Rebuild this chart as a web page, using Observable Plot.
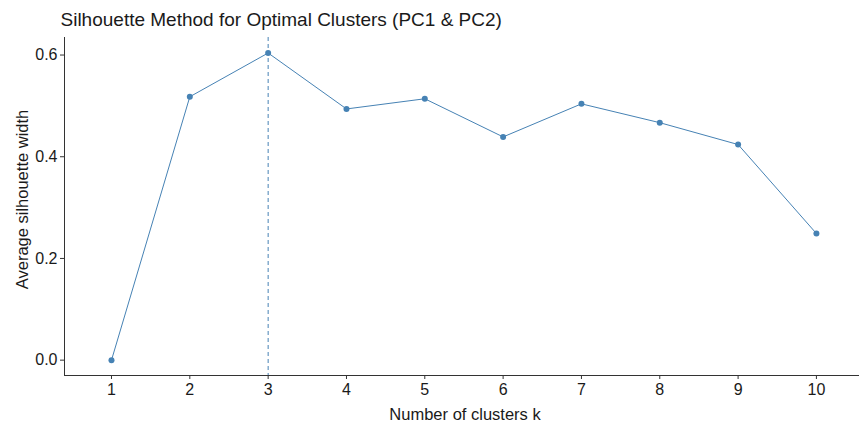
<!DOCTYPE html>
<html><head><meta charset="utf-8">
<script src="https://cdn.jsdelivr.net/npm/d3@7"></script>
<script src="https://cdn.jsdelivr.net/npm/@observablehq/plot@0.6"></script>
<style>body{margin:0;background:#fff;}</style>
</head><body><div id="chart"></div>
<script>
const ks = [1, 2, 3, 4, 5, 6, 7, 8, 9, 10];
const widths = [0, 0.518, 0.604, 0.494, 0.514, 0.439, 0.504, 0.467, 0.424, 0.249];
const optimalK = [3];
const yTicks = [0, 0.2, 0.4, 0.6];
const titleText = ["Silhouette Method for Optimal Clusters (PC1 & PC2)"];
const xLabel = ["Number of clusters k"];
const yLabel = ["Average silhouette width"];

const data = ks.map((k, i) => ({k, w: widths[i]}));
const color = "#4682B4";
const font = '"Liberation Sans", Arial, sans-serif';

const plot = Plot.plot({
  width: 859, height: 425,
  marginLeft: 64, marginRight: 0, marginTop: 37, marginBottom: 50,
  style: {fontFamily: font, fontSize: "16px", color: "#1a1a1a", background: "#fff"},
  x: {domain: [0.4, 10.55]},
  y: {domain: [-0.0302, 0.6345]},
  marks: [
    Plot.axisX({ticks: ks, tickFormat: d => String(d), tickSize: 4, tickPadding: 4, fontSize: 16,
      stroke: "#333", fill: "#1a1a1a", label: null}),
    Plot.axisY({ticks: yTicks, tickFormat: d3.format(".1f"), tickSize: 4, tickPadding: 3, fontSize: 16,
      stroke: "#333", fill: "#1a1a1a", label: null}),
    Plot.frame({anchor: "left", stroke: "#333"}),
    Plot.frame({anchor: "bottom", stroke: "#333"}),
    Plot.ruleX(optimalK, {stroke: color, strokeDasharray: "4,3", strokeWidth: 1}),
    Plot.line(data, {x: "k", y: "w", stroke: color, strokeWidth: 1}),
    Plot.dot(data, {x: "k", y: "w", fill: color, r: 3}),
    Plot.text(xLabel, {text: d => d, frameAnchor: "bottom", dx: 3, dy: 44, lineAnchor: "bottom",
      textAnchor: "middle", fontSize: 16.5, fill: "#1a1a1a"}),
    Plot.text(yLabel, {text: d => d, frameAnchor: "left", rotate: -90, dx: -42, dy: -7, lineAnchor: "middle",
      textAnchor: "middle", fontSize: 16.5, fill: "#1a1a1a"}),
    Plot.text(titleText, {text: d => d, frameAnchor: "top-left", dx: -4, dy: -12, lineAnchor: "bottom",
      textAnchor: "start", fontSize: 19, fill: "#1a1a1a"})
  ]
});
document.getElementById("chart").appendChild(plot);
</script>
</body></html>
